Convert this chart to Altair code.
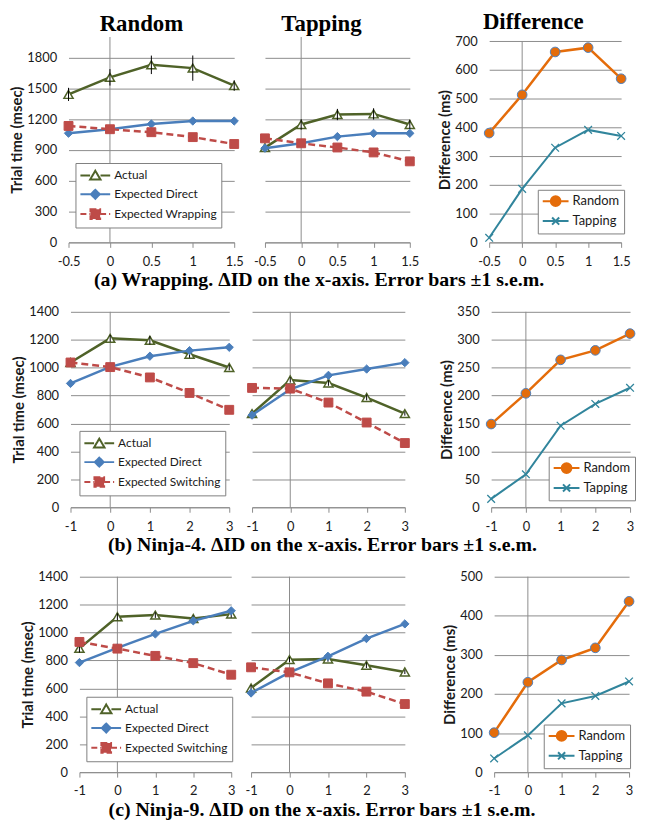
import math
import altair as alt
import pandas as pd

# ---------------- data ----------------
XA = [-0.5, 0, 0.5, 1, 1.5]
XB = [-1, 0, 1, 2, 3]

# (a) Wrapping
a_rand_actual = [1441, 1607, 1729, 1697, 1527]
a_rand_err = [64, 80, 90, 123, 51]
a_rand_direct = [1063, 1102, 1153, 1182, 1182]
a_rand_exp = [1134, 1102, 1073, 1025, 958]
a_tap_actual = [923, 1148, 1245, 1251, 1148]
a_tap_err = [30, 50, 55, 55, 45]
a_tap_direct = [917, 965, 1030, 1062, 1062]
a_tap_exp = [1013, 965, 924, 876, 789]
a_diff_rand = [380, 513, 662, 677, 569]
a_diff_tap = [16, 186, 329, 391, 370]

# (b) Ninja-4
b_rand_actual = [1037, 1210, 1196, 1096, 1001]
b_rand_err = [25, 25, 30, 25, 20]
b_rand_direct = [887, 1006, 1082, 1122, 1146]
b_rand_exp = [1037, 1004, 930, 819, 698]
b_tap_actual = [671, 912, 890, 786, 671]
b_tap_err = [15, 20, 20, 20, 15]
b_tap_direct = [660, 845, 945, 990, 1036]
b_tap_exp = [855, 850, 750, 607, 460]
b_diff_rand = [149, 204, 264, 281, 311]
b_diff_tap = [15, 59, 146, 185, 214]

# (c) Ninja-9
c_rand_actual = [887, 1113, 1125, 1101, 1132]
c_rand_err = [30, 25, 20, 20, 25]
c_rand_direct = [785, 890, 990, 1084, 1156]
c_rand_exp = [933, 885, 833, 781, 698]
c_tap_actual = [603, 806, 811, 766, 718]
c_tap_err = [20, 20, 20, 20, 15]
c_tap_direct = [567, 715, 830, 957, 1062]
c_tap_exp = [751, 715, 636, 577, 488]
c_diff_rand = [101, 230, 287, 318, 437]
c_diff_tap = [35, 94, 176, 195, 232]

COL_TITLES = ["Random", "Tapping", "Difference"]
CAPTIONS = [
    "(a) Wrapping. \u0394ID on the x-axis. Error bars \u00b11 s.e.m.",
    "(b) Ninja-4. \u0394ID on the x-axis. Error bars \u00b11 s.e.m.",
    "(c) Ninja-9. \u0394ID on the x-axis. Error bars \u00b11 s.e.m.",
]
NAMES_A = ["Actual", "Expected Direct", "Expected Wrapping"]
NAMES_BC = ["Actual", "Expected Direct", "Expected Switching"]
NAMES_D = ["Random", "Tapping"]

# ---------------- style ----------------
OLIVE = "#4F6228"
BLUE = "#4A7EBB"
RED = "#BE4B48"
ORANGE = "#E46C0A"
TEAL = "#31859C"
GRID = "#8C8C8C"
TXT = "#1A1A1A"
SANS = "Lato"
SERIF = "Liberation Serif"

X_MARK = "M-1,-1L1,1M-1,1L1,-1"
# legend glyphs: line from x=-1 to x=3 with the marker centred on x=1
P_ACT = "M-1,0H0.3M1.7,0H3M1,-0.62L1.7,0.56L0.3,0.56Z"
P_DIR = "M-1,0H0.4M1.6,0H3M1,-0.6L1.6,0L1,0.6L0.4,0Z"
P_EXP = "M-1,0H0.35M1.65,0H3M0.35,-0.65H1.65V0.65H0.35Z"
_circ = "".join(("M" if k == 0 else "L") + "%.3f,%.3f" % (1 + 0.75 * math.cos(k * math.pi / 8),
                                                         0.75 * math.sin(k * math.pi / 8))
                for k in range(16)) + "Z"
P_DR = "M-1,0H0.25M1.75,0H3" + _circ
P_DT = "M-1,0H3M0.45,-0.55L1.55,0.55M0.45,0.55L1.55,-0.55"

TRIAL_STYLES = [
    dict(color=OLIVE, shape="triangle-up", size=85, fill="white", stroke=OLIVE, sw=1.5),
    dict(color=BLUE, shape="diamond", size=70, fill=BLUE, stroke=BLUE, sw=1),
    dict(color=RED, shape="square", size=80, fill=RED, stroke=RED, sw=1, dash=[7, 4]),
]
DIFF_STYLES = [
    dict(color=ORANGE, shape="circle", size=95, fill=ORANGE, stroke="#4F81BD", sw=1, lw=2.5),
    dict(color=TEAL, shape=X_MARK, size=60, fill="transparent", stroke=TEAL, sw=1.3, lw=2),
]

RES = dict(shape="independent", fill="independent", stroke="independent",
           strokeDash="independent", x="independent", y="independent")


def spacer(w):
    return alt.Chart(pd.DataFrame({"z": [0]})).mark_rule(opacity=0, strokeWidth=0.1).encode(
        x=alt.value(0), y=alt.value(0), y2=alt.value(1)).properties(width=w, height=1)


def panel(xs, vals, names, styles, err, ytop, ymax, ystep, rule_top, w, h,
          ytitle, legend_xy, legend_paths, legend_r, legend_font, legend_dash=None,
          title=None, title_dx=0):
    n = len(xs)
    df = pd.DataFrame({
        "x": list(xs) * len(vals),
        "v": [v for series in vals for v in series],
        "s": [nm for nm in names for _ in range(n)],
        "e": (list(err) if err is not None else [0] * n) + [0] * (n * (len(vals) - 1)),
    })
    xsc = alt.Scale(domain=[xs[0], xs[-1]], nice=False, zero=False)
    ysc = alt.Scale(domain=[0, ytop], nice=False, zero=True)
    xaxis = alt.Axis(values=list(xs), labelExpr="datum.value + ''", grid=False,
                     domain=True, domainColor=GRID, ticks=True, tickColor=GRID,
                     tickSize=5, labelFont=SANS, labelFontSize=13, labelColor=TXT,
                     labelPadding=8, labelFlush=False, labelOverlap=False, title=None)
    yvals = list(range(0, ymax + 1, ystep))
    if ytitle:
        yaxis = alt.Axis(values=yvals, labelExpr="datum.value + ''", grid=True,
                         gridColor=GRID, gridWidth=1,
                         domain=False, ticks=False, labelFont=SANS, labelFontSize=13,
                         labelColor=TXT, labelPadding=12, title=ytitle, titleFont=SANS,
                         titleFontSize=15, titleFontWeight="bold", titleColor=TXT,
                         titlePadding=2)
    else:
        yaxis = alt.Axis(values=yvals, grid=True, gridColor=GRID, gridWidth=1,
                         domain=False, ticks=False, labels=False, title=None)

    X = alt.X("x:Q", scale=xsc, axis=xaxis)
    Y = alt.Y("v:Q", scale=ysc, axis=yaxis)

    rdf = pd.DataFrame({"x": [0], "v": [0], "v2": [rule_top]})
    layers = [alt.Chart(rdf).mark_rule(color=GRID, strokeWidth=1).encode(x=X, y=Y, y2="v2:Q")]
    for i, (nm, st) in enumerate(zip(names, styles)):
        sub = alt.Chart(df).transform_filter(alt.datum.s == nm)
        line_kw = dict(color=st["color"], strokeWidth=st.get("lw", 2.5))
        if "dash" in st:
            line_kw["strokeDash"] = st["dash"]
        layers.append(sub.mark_line(**line_kw).encode(x=X, y=Y))
        layers.append(sub.mark_point(shape=st["shape"], size=st["size"], filled=True,
                                     fill=st["fill"], stroke=st["stroke"],
                                     strokeWidth=st["sw"], opacity=1).encode(x=X, y=Y))
        if i == 0 and err is not None:
            layers.append(sub.transform_calculate(
                lo="datum.v - datum.e", hi="datum.v + datum.e").mark_rule(
                color="black", strokeWidth=1).encode(
                x=X, y=alt.Y("lo:Q", scale=ysc, axis=yaxis), y2="hi:Q"))

    if legend_xy is not None:
        L = alt.Legend(orient="none", legendX=legend_xy[0], legendY=legend_xy[1], title=None,
                       symbolSize=(2 * legend_r) ** 2, symbolStrokeWidth=2, symbolOpacity=1,
                       labelFont=SANS, labelFontSize=legend_font, labelColor=TXT,
                       labelOffset=2 * legend_r + 3,
                       strokeColor="#7F7F7F", fillColor="white", padding=4, rowPadding=2,
                       cornerRadius=0)
        enc = dict(
            x=X, y=Y,
            shape=alt.Shape("s:N", scale=alt.Scale(domain=names, range=legend_paths), legend=L),
            stroke=alt.Stroke("s:N", scale=alt.Scale(domain=names, range=[s["color"] for s in styles]), legend=L),
            fill=alt.Fill("s:N", scale=alt.Scale(domain=names, range=[s["fill"] if s["fill"] != "transparent" else s["color"] for s in styles]), legend=L),
        )
        if legend_dash is not None:
            enc["strokeDash"] = alt.StrokeDash("s:N", scale=alt.Scale(domain=names, range=legend_dash), legend=L)
        layers.append(alt.Chart(df).transform_filter("false").mark_point(opacity=1).encode(**enc))

    ch = alt.layer(*layers).properties(width=w, height=h)
    if title:
        ch = ch.properties(title=alt.TitleParams(
            text=title, font=SERIF, fontSize=23, fontWeight="bold", color="black",
            anchor="middle", frame="group", dx=title_dx, offset=1))
    return ch


TRIAL_PATHS = [P_ACT, P_DIR, P_EXP]
TRIAL_DASH = [[1, 0], [1, 0], [6, 3]]
DIFF_PATHS = [P_DR, P_DT]


def trial(xs, act, err, direct, exp, names, ytop, ymax, ystep, w, h, ytitle, lxy,
          title=None, dx=0):
    return panel(xs, [act, direct, exp], names, TRIAL_STYLES, err, ytop, ymax, ystep, ytop,
                 w, h, ytitle, lxy, TRIAL_PATHS, 7.5, 12, TRIAL_DASH, title, dx)


def diff(xs, r, t, ytop, ymax, ystep, w, h, lxy, title=None, dx=0):
    return panel(xs, [r, t], NAMES_D, DIFF_STYLES, None, ytop, ymax, ystep, ymax, w, h,
                 "Difference (ms)", lxy, DIFF_PATHS, 6.5, 13, None, title, dx)


def caption(text):
    return alt.TitleParams(text=text, orient="bottom", font=SERIF, fontSize=20,
                           fontWeight="bold", color="black", anchor="middle", offset=2)


# row a
ra = trial(XA, a_rand_actual, a_rand_err, a_rand_direct, a_rand_exp, NAMES_A, 2000, 1800, 300,
           167, 207, "Trial time (msec)", (7, 127), COL_TITLES[0], -10)
ta = trial(XA, a_tap_actual, a_tap_err, a_tap_direct, a_tap_exp, NAMES_A, 2000, 1800, 300,
           146, 207, None, None, COL_TITLES[1], -16)
da = diff(XA, a_diff_rand, a_diff_tap, 714, 700, 100, 133, 207, (49, 154), COL_TITLES[2], -22)

# row b
rb = trial(XB, b_rand_actual, b_rand_err, b_rand_direct, b_rand_exp, NAMES_BC, 1400, 1400, 200,
           160, 197, "Trial time (msec)", (9, 120))
tb = trial(XB, b_tap_actual, b_tap_err, b_tap_direct, b_tap_exp, NAMES_BC, 1400, 1400, 200,
           154, 197, None, None)
db = diff(XB, b_diff_rand, b_diff_tap, 350, 350, 50, 140, 197, (58, 146))

# row c
rc = trial(XB, c_rand_actual, c_rand_err, c_rand_direct, c_rand_exp, NAMES_BC, 1400, 1400, 200,
           153, 197, "Trial time (msec)", (7, 121))
tc = trial(XB, c_tap_actual, c_tap_err, c_tap_direct, c_tap_exp, NAMES_BC, 1400, 1400, 200,
           155, 197, None, None)
dc = diff(XB, c_diff_rand, c_diff_tap, 500, 500, 100, 136, 197, (50, 149))

row_a = alt.hconcat(spacer(1), ra, spacer(9), ta, spacer(18), da, spacing=0).resolve_scale(**RES).properties(
    title=caption(CAPTIONS[0]))
row_b = alt.hconcat(spacer(3), rb, spacer(7), tb, spacer(27), db, spacing=0).resolve_scale(**RES).properties(
    title=caption(CAPTIONS[1]))
row_c = alt.hconcat(spacer(12), rc, spacer(4), tc, spacer(30), dc, spacing=0).resolve_scale(**RES).properties(
    title=caption(CAPTIONS[2]))

chart = alt.vconcat(row_a, row_b, row_c, spacing=16).resolve_scale(**RES).properties(
    padding={"left": 0, "top": 0, "right": 0, "bottom": 0}
).configure(font=SANS).configure_view(stroke=None)

chart.save("out.html", embed_options={"renderer": "svg", "actions": False})
